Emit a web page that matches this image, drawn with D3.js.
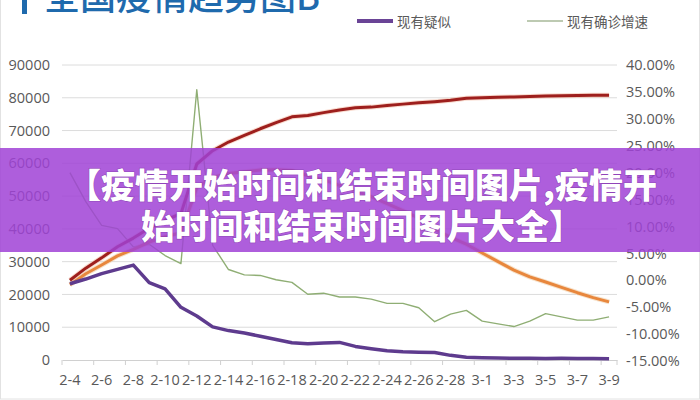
<!DOCTYPE html>
<html>
<head>
<meta charset="utf-8">
<script src="https://cdn.jsdelivr.net/npm/d3@7"></script>
<style>
html,body{margin:0;padding:0;background:#fff;}
svg{display:block;}
</style>
</head>
<body>
<svg id="chart" width="700" height="400"></svg>
<script>
const dates = ["2-4","2-5","2-6","2-7","2-8","2-9","2-10","2-11","2-12","2-13","2-14","2-15","2-16","2-17","2-18","2-19","2-20","2-21","2-22","2-23","2-24","2-25","2-26","2-27","2-28","2-29","3-1","3-2","3-3","3-4","3-5","3-6","3-7","3-8","3-9"];
const cumConfirmed = [24324,28018,31161,34546,37198,40171,42638,44653,59804,63851,66492,68500,70548,72436,74185,74576,75465,76288,76936,77150,77658,78064,78497,78824,79251,79824,80026,80151,80270,80409,80552,80651,80695,80735,80754];
const currentConfirmed = [22942,26302,28985,31774,33738,35982,37626,38800,52526,55748,56873,57416,57934,58016,57805,56303,54965,53284,51606,49824,47672,45604,43258,39919,37414,35329,32652,30004,27433,25352,23784,22177,20533,19016,17721];
const suspected = [23260,24702,26359,27657,28942,23589,21675,16067,13435,10109,8969,8228,7264,6242,5248,4922,5206,5365,4148,3434,2824,2491,2358,2308,1418,851,715,587,520,522,482,502,458,421,349];
const growthRate = [20.0,14.6,10.2,9.6,6.2,6.7,4.6,3.1,35.4,6.5,2.0,1.0,0.9,0.1,-0.4,-2.6,-2.4,-3.1,-3.1,-3.5,-4.3,-4.3,-5.1,-7.7,-6.3,-5.6,-7.6,-8.1,-8.6,-7.6,-6.2,-6.8,-7.4,-7.4,-6.8];
const leftTicks = [0,10000,20000,30000,40000,50000,60000,70000,80000,90000];
const rightTicks = [-15,-10,-5,0,5,10,15,20,25,30,35,40];
const xTickLabels = dates.filter((d,i)=>i%2===0);
const titleText = "全国疫情趋势图B";
const legendItems = ["现有疑似","现有确诊增速"];
const bannerLines = ["【疫情开始时间和结束时间图片,疫情开","始时间和结束时间图片大全】"];

const svg = d3.select("#chart");
const numFont = "'Open Sans','Liberation Sans',sans-serif";
const cjkFont = "'Noto Sans CJK SC','Noto Sans',sans-serif";

svg.append("rect").attr("x",0.5).attr("y",-2).attr("width",699).attr("height",401)
  .attr("fill","#fff").attr("stroke","#e2e2e2");

const x = d3.scaleBand().domain(dates).range([62,617]).padding(0);
const cx = d => x(d) + x.bandwidth()/2;
const yL = d3.scaleLinear().domain([0,90000]).range([360,65]);
const yR = d3.scaleLinear().domain([-15,40]).range([361,65]);

// gridlines
svg.append("g").selectAll("line").data(leftTicks.filter(v=>v>0)).join("line")
  .attr("x1",62).attr("x2",617).attr("y1",d=>yL(d)).attr("y2",d=>yL(d))
  .attr("stroke","#dcdcdc").attr("stroke-width",1);

// left axis
const gl = svg.append("g").attr("transform","translate(50,0)")
  .call(d3.axisLeft(yL).tickValues(leftTicks).tickSize(0).tickPadding(0).tickFormat(d=>String(d)));
gl.select(".domain").remove();
gl.selectAll("text").attr("font-family",numFont).attr("font-size",14.5).attr("fill","#595959");

// right axis
const gr = svg.append("g").attr("transform","translate(626,0)")
  .call(d3.axisRight(yR).tickValues(rightTicks).tickSize(0).tickPadding(0).tickFormat(d=>d.toFixed(2)+"%"));
gr.select(".domain").remove();
gr.selectAll("text").attr("font-family",numFont).attr("font-size",14.5).attr("fill","#595959");

// bottom axis
const gb = svg.append("g").attr("transform","translate(0,360)")
  .call(d3.axisBottom(x).tickValues(xTickLabels).tickSize(0).tickPadding(15));
gb.select(".domain").attr("stroke","#d0d0d0");
gb.selectAll("text").attr("font-family",numFont).attr("font-size",14.5).attr("fill","#595959");
const boundaries = dates.filter((d,i)=>i%2===0).map(d=>x(d)).concat([617]);
svg.append("g").selectAll("line").data(boundaries).join("line")
  .attr("x1",d=>d).attr("x2",d=>d).attr("y1",360).attr("y2",365)
  .attr("stroke","#d0d0d0");

// lines
const lineL = vals => d3.line().x((v,i)=>cx(dates[i])).y(v=>yL(v))(vals);
const lineR = vals => d3.line().x((v,i)=>cx(dates[i])).y(v=>yR(v))(vals);

svg.append("path").attr("d",lineR(growthRate)).attr("fill","none")
  .attr("stroke","#8fae74").attr("stroke-width",1.4).attr("stroke-linejoin","round");
svg.append("path").attr("d",lineL(currentConfirmed)).attr("fill","none")
  .attr("stroke","#f0cfa8").attr("stroke-width",5).attr("stroke-linejoin","round").attr("opacity",0.6);
svg.append("path").attr("d",lineL(currentConfirmed)).attr("fill","none")
  .attr("stroke","#e8873d").attr("stroke-width",3).attr("stroke-linejoin","round");
svg.append("path").attr("d",lineL(cumConfirmed)).attr("fill","none")
  .attr("stroke","#f3b8a0").attr("stroke-width",5).attr("stroke-linejoin","round").attr("opacity",0.5);
svg.append("path").attr("d",lineL(cumConfirmed)).attr("fill","none")
  .attr("stroke","#9e1f1d").attr("stroke-width",3).attr("stroke-linejoin","round");
svg.append("path").attr("d",lineL(suspected)).attr("fill","none")
  .attr("stroke","#5e3b8e").attr("stroke-width",3.5).attr("stroke-linejoin","round");

// title
svg.append("rect").attr("x",22).attr("y",-6).attr("width",5).attr("height",20).attr("fill","#1f6aad");
svg.append("text").attr("x",44).attr("y",10).text(titleText)
  .attr("font-family",cjkFont).attr("font-size",36).attr("font-weight",500).attr("fill","#1f6aad");

// legend
const lgX = [357,527];
const lgColors = ["#6a4496","#a7b998"];
const lgW = [4,1.5];
legendItems.forEach((t,i)=>{
  svg.append("line").attr("x1",lgX[i]).attr("x2",lgX[i]+36).attr("y1",21).attr("y2",21)
    .attr("stroke",lgColors[i]).attr("stroke-width",lgW[i]);
  svg.append("text").attr("x",lgX[i]+40).attr("y",21).attr("dominant-baseline","central")
    .text(t).attr("font-family",cjkFont).attr("font-size",13.5).attr("fill","#595959");
});

// banner overlay
svg.append("rect").attr("x",0).attr("y",148).attr("width",700).attr("height",104)
  .attr("fill","rgb(160,66,214)").attr("opacity",0.85);
bannerLines.forEach((t,i)=>{
  svg.append("text").attr("x",362).attr("y",183 + i*41).attr("text-anchor","middle")
    .attr("dominant-baseline","central")
    .text(t).attr("font-family",cjkFont).attr("font-size",34).attr("font-weight",900)
    .attr("fill","#fff").attr("stroke","rgba(90,20,120,0.35)").attr("stroke-width",1.2)
    .attr("paint-order","stroke");
});
</script>
</body>
</html>
